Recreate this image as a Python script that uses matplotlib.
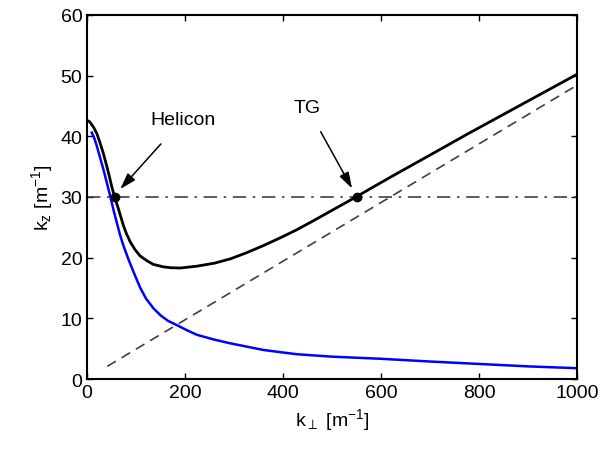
import numpy as np
import matplotlib
matplotlib.use("Agg")
import matplotlib.pyplot as plt

plt.rcParams['font.family'] = ['Liberation Sans', 'DejaVu Sans']
plt.rcParams['mathtext.default'] = 'regular'

# black curve (total dispersion)
k_black = [0, 5, 13, 20, 26, 33, 40, 45, 50, 56, 64, 74, 80, 88, 98, 108, 122, 135, 155, 170,
           190, 224, 260, 292, 325, 360, 395, 428, 460, 490, 520, 550, 580, 620, 700, 775,
           850, 925, 1000]
kz_black = [42.6, 42.4, 41.5, 40.4, 39.0, 37.2, 35.1, 33.5, 31.8, 30.0, 28.0, 25.3, 24.0, 22.6,
            21.3, 20.3, 19.5, 18.9, 18.5, 18.35, 18.3, 18.6, 19.1, 19.8, 20.8, 22.0, 23.3, 24.6,
            26.0, 27.35, 28.7, 30.05, 31.45, 33.3, 36.9, 40.3, 43.6, 46.9, 50.2]

# blue curve
k_blue = [9.5, 15, 19.7, 26, 33, 40, 47, 54, 60.5, 67, 74, 84, 95, 108, 120, 135, 150, 165, 183,
          200, 224, 260, 292, 360, 428, 500, 600, 700, 800, 900, 1000]
kz_blue = [40.6, 39.6, 38.4, 36.6, 34.6, 32.4, 30.2, 27.8, 25.8, 23.8, 22.0, 19.8, 17.6, 15.1,
           13.3, 11.7, 10.5, 9.6, 8.9, 8.2, 7.3, 6.5, 5.9, 4.8, 4.1, 3.7, 3.35, 2.9, 2.5, 2.1, 1.8]

# dashed line
k_dash = [41, 1000]
kz_dash = [2.1, 48.4]

# resonance level and marked points
kz_level = 30
k_marks = [56, 550]
kz_marks = [30, 30]

fig, ax = plt.subplots(figsize=(6.01, 4.52), dpi=100)
fig.subplots_adjust(left=0.145, right=0.96, top=0.965, bottom=0.159)

ax.plot(k_dash, kz_dash, '--', color='#404040', lw=1.2, dashes=(6, 4))
ax.plot([0, 1000], [kz_level, kz_level], '-.', color='#404040', lw=1.2, dashes=(8, 4, 1.5, 4))
ax.plot(k_blue, kz_blue, color='#0000ff', lw=1.8)
ax.plot(k_black, kz_black, color='black', lw=2)
ax.plot(k_marks, kz_marks, 'o', color='black', ms=6)

arrow = dict(arrowstyle='-|>,head_length=0.7,head_width=0.22', color='black', lw=1.1,
             shrinkA=13, shrinkB=3)
ax.annotate('Helicon', xy=(k_marks[0] + 6, 30.8), xytext=(196, 42.8), fontsize=14,
            ha='center', va='center', arrowprops=arrow)
ax.annotate('TG', xy=(k_marks[1] - 5, 30.8), xytext=(449, 44.8), fontsize=14,
            ha='center', va='center', arrowprops=dict(arrow, shrinkA=11))

ax.set_xlim(0, 1000)
ax.set_ylim(0, 60)
ax.set_xticks([0, 200, 400, 600, 800, 1000])
ax.set_yticks([0, 10, 20, 30, 40, 50, 60])
ax.tick_params(direction='in', top=True, right=True, labelsize=14, length=4, width=1)
for s in ax.spines.values():
    s.set_linewidth(1.5)
ax.set_xlabel(r'k$_\perp$ [m$^{-1}$]', fontsize=14)
ax.set_ylabel(r'k$_z$ [m$^{-1}$]', fontsize=14)

plt.savefig('out.png', dpi=100)
